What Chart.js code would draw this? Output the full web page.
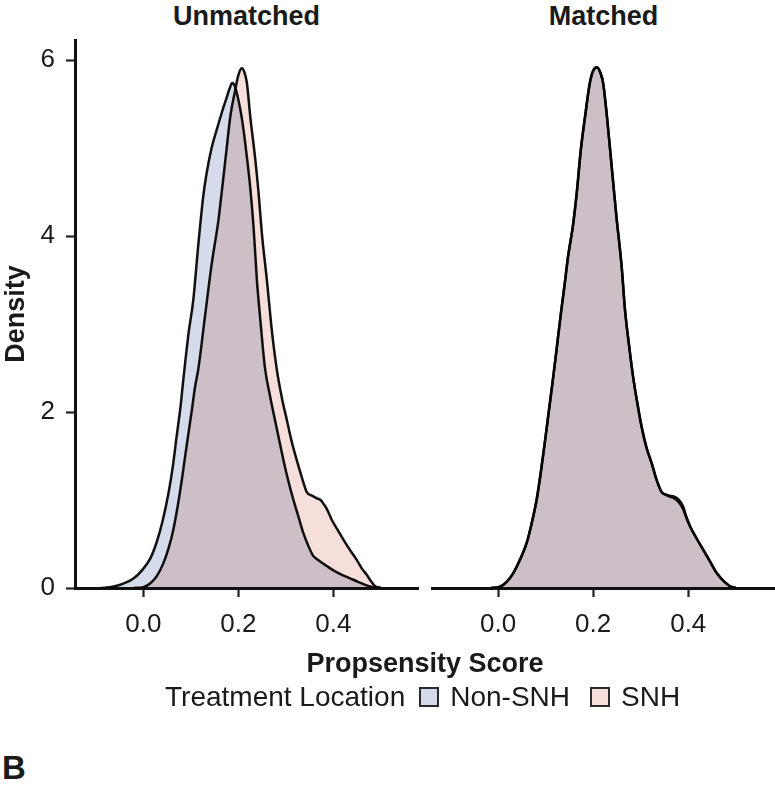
<!DOCTYPE html>
<html>
<head>
<meta charset="utf-8">
<script src="https://cdn.jsdelivr.net/npm/chart.js@4.4.1/dist/chart.umd.min.js"></script>
<style>
  html, body { margin:0; padding:0; background:#fff; }
  body { width:775px; height:789px; position:relative; overflow:hidden;
         font-family:"Liberation Sans", Arial, Helvetica, sans-serif; color:#1a1a1a; }
  .abs { position:absolute; }
  .strip { font-weight:bold; font-size:27px; text-align:center; top:0; height:32px; line-height:32px; }
  #xtitle { font-weight:bold; font-size:27px; left:75px; width:700px; text-align:center; top:647px; line-height:32px; }
  #legend { top:681px; left:165px; display:flex; align-items:center; font-size:28px; line-height:32px; white-space:nowrap; }
  .box { width:16px; height:16px; border:2px solid #2a2a2a; display:inline-block; }
  #tag { left:2px; top:748px; font-weight:bold; font-size:33px; line-height:40px; }
</style>
</head>
<body>
<div class="abs strip" style="left:75px;width:343px;">Unmatched</div>
<div class="abs strip" style="left:432px;width:343px;">Matched</div>
<div class="abs" style="left:0;top:0;width:420px;height:660px;"><canvas id="cLeft" width="420" height="660"></canvas></div>
<div class="abs" style="left:420px;top:0;width:355px;height:660px;"><canvas id="cRight" width="355" height="660"></canvas></div>
<div class="abs" id="xtitle">Propsensity Score</div>
<div class="abs" id="legend">
  <span>Treatment Location</span>
  <span class="box" style="margin-left:14px;background:#d5dbea;"></span>
  <span style="margin-left:11px;">Non-SNH</span>
  <span class="box" style="margin-left:20px;background:#f6dfda;"></span>
  <span style="margin-left:11px;">SNH</span>
</div>
<div class="abs" id="tag">B</div>
<script>
// ---------- data ----------
const panelTitles = ["Unmatched", "Matched"];
const seriesNames = ["Non-SNH", "SNH"];
const xTickValues = [0.0, 0.2, 0.4];
const yTickValues = [0, 2, 4, 6];

const unmatchedNonSnhX = [-0.09,-0.077,-0.06,-0.042,-0.02,-0.003,0.015,0.028,0.04,0.053,0.062,0.07,0.078,0.084,0.095,0.105,0.116,0.126,0.133,0.144,0.155,0.166,0.175,0.181,0.187,0.193,0.2,0.207,0.213,0.219,0.225,0.232,0.239,0.247,0.256,0.266,0.277,0.286,0.295,0.305,0.316,0.327,0.337,0.348,0.357,0.365,0.375,0.386,0.4,0.418,0.435,0.452,0.47,0.485,0.5];
const unmatchedNonSnhY = [0,0.005,0.02,0.05,0.11,0.2,0.34,0.52,0.75,1.08,1.38,1.72,2.05,2.36,2.89,3.27,3.92,4.45,4.71,5.01,5.22,5.42,5.57,5.67,5.74,5.70,5.55,5.35,5.12,4.85,4.55,4.1,3.5,3.0,2.5,2.2,1.91,1.68,1.45,1.22,1.0,0.8,0.62,0.47,0.37,0.33,0.29,0.25,0.2,0.15,0.11,0.07,0.03,0.01,0];

const unmatchedSnhX = [-0.02,0.0,0.01,0.018,0.03,0.042,0.053,0.063,0.072,0.081,0.088,0.095,0.102,0.109,0.116,0.13,0.144,0.158,0.166,0.175,0.183,0.193,0.2,0.207,0.213,0.218,0.225,0.235,0.242,0.25,0.26,0.27,0.281,0.292,0.302,0.312,0.323,0.334,0.344,0.355,0.365,0.373,0.38,0.386,0.397,0.41,0.421,0.435,0.449,0.46,0.47,0.48,0.488,0.5];
const unmatchedSnhY = [0,0.01,0.035,0.07,0.15,0.28,0.45,0.66,0.92,1.23,1.5,1.76,2.02,2.29,2.5,3.1,3.69,4.18,4.55,4.98,5.36,5.65,5.83,5.91,5.86,5.74,5.36,4.9,4.52,4.0,3.5,2.95,2.48,2.15,1.91,1.67,1.45,1.25,1.09,1.05,1.02,1.0,0.95,0.9,0.77,0.65,0.55,0.43,0.32,0.22,0.15,0.07,0.02,0];

const matchedX = [-0.015,0.004,0.018,0.032,0.046,0.06,0.07,0.081,0.09,0.098,0.107,0.116,0.125,0.133,0.14,0.147,0.158,0.166,0.174,0.183,0.193,0.2,0.208,0.215,0.221,0.229,0.239,0.249,0.26,0.267,0.275,0.284,0.293,0.302,0.312,0.323,0.334,0.344,0.353,0.361,0.37,0.379,0.389,0.396,0.404,0.418,0.432,0.446,0.46,0.474,0.488,0.5];
const matchedSnhY = [0,0.015,0.07,0.17,0.32,0.51,0.72,1.0,1.32,1.64,2.02,2.4,2.8,3.16,3.45,3.76,4.14,4.52,4.98,5.36,5.74,5.88,5.92,5.86,5.74,5.36,4.79,4.22,3.65,3.16,2.78,2.4,2.1,1.83,1.6,1.42,1.22,1.09,1.06,1.04,1.02,0.98,0.9,0.8,0.7,0.56,0.43,0.3,0.17,0.08,0.02,0];
const matchedNonSnhY = [0,0.015,0.07,0.17,0.32,0.51,0.72,1.0,1.32,1.64,2.02,2.4,2.8,3.16,3.45,3.76,4.14,4.52,4.98,5.36,5.74,5.88,5.92,5.86,5.74,5.36,4.79,4.22,3.65,3.16,2.78,2.4,2.1,1.83,1.6,1.42,1.22,1.09,1.06,1.05,1.04,1.01,0.93,0.81,0.7,0.56,0.43,0.3,0.17,0.08,0.02,0];

// ---------- styling ----------
const FONT = "'Liberation Sans', Arial, Helvetica, sans-serif";
const fillColors = { "Non-SNH": "#d5dbea", "SNH": "#f6dfda" };
const ink = "#1a1a1a";

function pts(xs, ys){ return xs.map((x,i)=>({x:x, y:ys[i]})); }
function ds(name, xs, ys){
  return {
    label: name,
    data: pts(xs, ys),
    backgroundColor: fillColors[name],
    borderColor: "#111",
    borderWidth: 2.5,
    fill: "origin",
    pointRadius: 0,
    pointHoverRadius: 0,
    cubicInterpolationMode: "monotone"
  };
}

const multiplyPlugin = {
  id: "multiplyBlend",
  beforeDatasetsDraw(chart){ chart.ctx.save(); chart.ctx.globalCompositeOperation = "multiply"; },
  afterDatasetsDraw(chart){ chart.ctx.restore(); }
};

function setTicks(values){ return function(scale){ scale.ticks = values.map(v=>({value:v})); }; }

function makeOptions(opts){
  return {
    responsive: false,
    animation: false,
    devicePixelRatio: 1,
    layout: { padding: { top: 40, left: opts.padLeft, right: opts.padRight, bottom: 0 } },
    plugins: { legend: { display: false }, tooltip: { enabled: false }, title: { display: false } },
    scales: {
      x: {
        type: "linear",
        min: opts.xmin, max: opts.xmax,
        afterBuildTicks: setTicks(xTickValues),
        afterFit(scale){ scale.height = 72; },
        ticks: { font: { family: FONT, size: 26 }, color: ink, padding: 12,
                 callback: v => v.toFixed(1), maxRotation: 0, autoSkip: false },
        grid: { display: true, drawOnChartArea: false, drawTicks: true, tickLength: 9,
                tickColor: "#222", tickWidth: 2.2 },
        border: { display: true, color: "#111", width: 3 }
      },
      y: {
        type: "linear",
        display: opts.showY,
        min: 0, max: 6.23,
        afterBuildTicks: setTicks(yTickValues),
        afterFit(scale){ scale.width = opts.showY ? 75 : 0; },
        ticks: { font: { family: FONT, size: 26 }, color: ink, padding: 11,
                 callback: v => String(v) },
        grid: { display: true, drawOnChartArea: false, drawTicks: true, tickLength: 9,
                tickColor: "#222", tickWidth: 2.2 },
        border: { display: true, color: "#111", width: 3 },
        title: { display: true, text: "Density", font: { family: FONT, size: 27, weight: "bold" },
                 color: ink, padding: 0 }
      }
    }
  };
}

new Chart(document.getElementById("cLeft"), {
  type: "line",
  data: { datasets: [ ds(seriesNames[0], unmatchedNonSnhX, unmatchedNonSnhY),
                      ds(seriesNames[1], unmatchedSnhX, unmatchedSnhY) ] },
  options: makeOptions({ xmin: -0.1438, xmax: 0.578, padLeft: 0, padRight: 2, showY: true }),
  plugins: [multiplyPlugin]
});

new Chart(document.getElementById("cRight"), {
  type: "line",
  data: { datasets: [ ds(seriesNames[0], matchedX, matchedNonSnhY),
                      ds(seriesNames[1], matchedX, matchedSnhY) ] },
  options: makeOptions({ xmin: -0.139, xmax: 0.5825, padLeft: 12, padRight: 0, showY: false }),
  plugins: [multiplyPlugin]
});
</script>
</body>
</html>
